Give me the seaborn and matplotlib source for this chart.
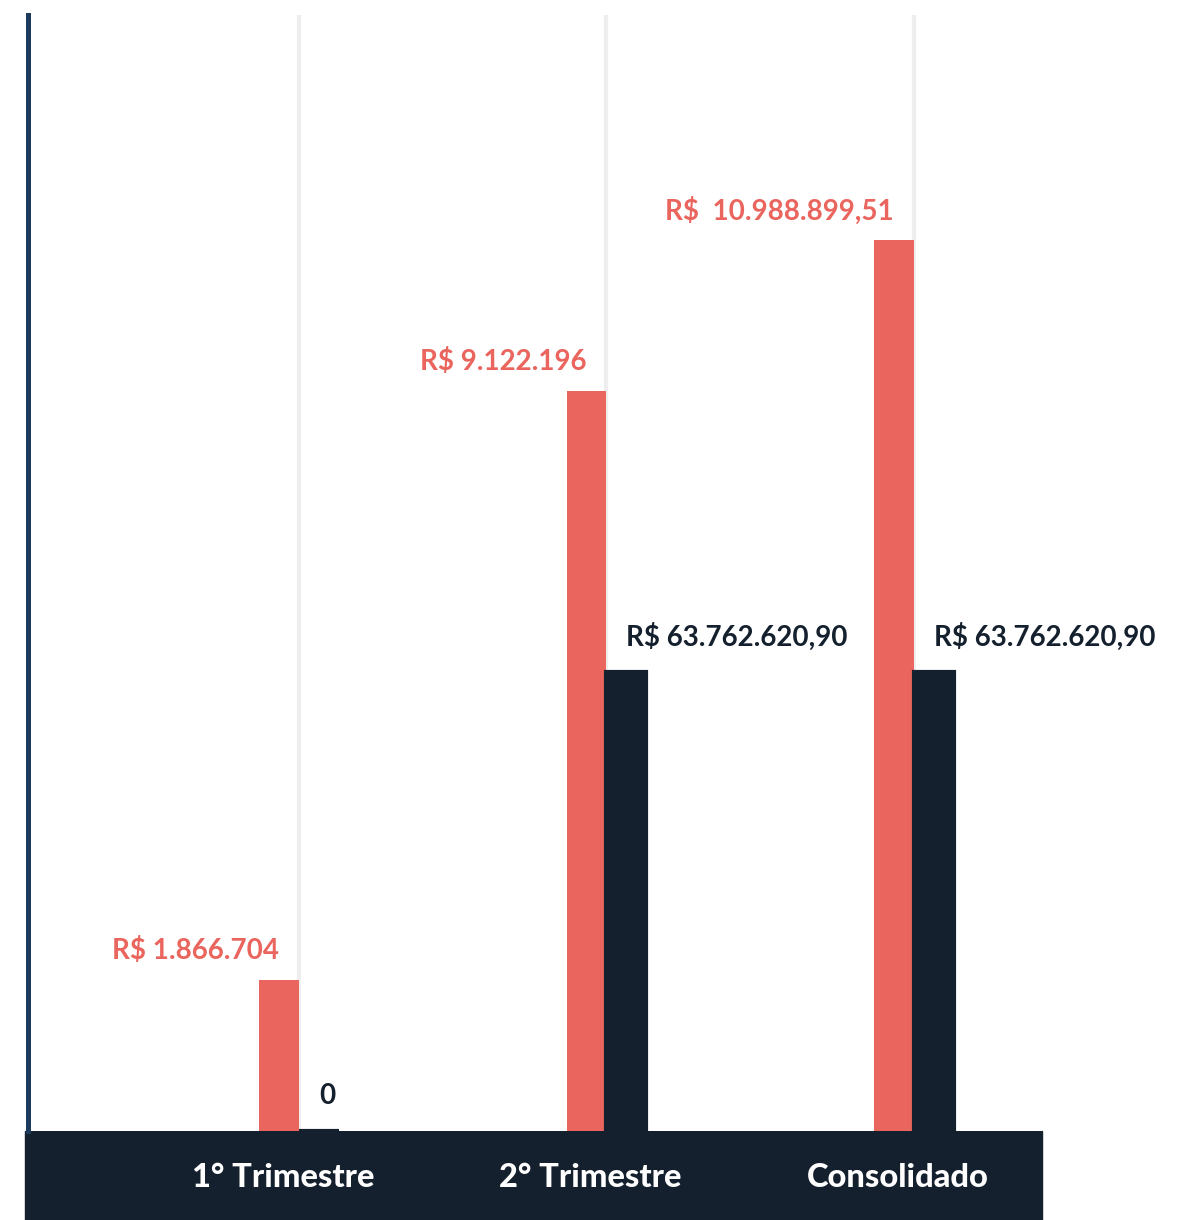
"""Receita por período — barras agrupadas com dois eixos (vermelho / azul-marinho)."""

import matplotlib
matplotlib.use("Agg")
import matplotlib.pyplot as plt
import matplotlib.transforms as mtransforms
import numpy as np
import pandas as pd
import seaborn as sns
from matplotlib.patches import Rectangle

# --- dados ---
periodos = ["1° Trimestre", "2° Trimestre", "Consolidado"]
serie_a = [1866704, 9122196, 10988899.51]
serie_b = [0, 63762620.90, 63762620.90]
rotulos_a = ["R$ 1.866.704", "R$ 9.122.196", "R$  10.988.899,51"]
rotulos_b = ["0", "R$ 63.762.620,90", "R$ 63.762.620,90"]
series = ["Série A", "Série B"]

VERMELHO = "#EA655E"
MARINHO = "#15202E"
AZUL_EIXO = "#1B3A5C"
CINZA = "#EEEEEE"

sns.set_theme(style="white")
plt.rcParams["font.family"] = ["Lato", "DejaVu Sans"]

df = pd.DataFrame({
    "periodo": periodos * 2,
    "valor": serie_a + serie_b,
    "serie": [series[0]] * 3 + [series[1]] * 3,
})

W, H = 1186, 1220
fig = plt.figure(figsize=(W / 100, H / 100), dpi=100)
ax = fig.add_axes([28 / W, 89 / H, (1042 - 28) / W, (1131 - 15) / H])
ax2 = ax.twinx()

pal = {series[0]: VERMELHO, series[1]: MARINHO}
largura = 0.26

sns.barplot(data=df[df["serie"] == series[0]], x="periodo", y="valor",
            hue="serie", hue_order=series, order=periodos, palette=pal,
            width=largura, dodge=True, saturation=1, legend=False, ax=ax,
            linewidth=0)
sns.barplot(data=df[df["serie"] == series[1]], x="periodo", y="valor",
            hue="serie", hue_order=series, order=periodos, palette=pal,
            width=largura, dodge=True, saturation=1, legend=False, ax=ax2,
            edgecolor=MARINHO, linewidth=3)

ax.set_ylim(0, 13.76e6)
ax2.set_ylim(0, 155.0e6)
ax.set_xlim(-0.8813, 2.4163)

# grade vertical nas categorias
ax.set_axisbelow(True)
ax.grid(axis="x", color=CINZA, lw=3)
ax.grid(axis="y", visible=False)
ax2.grid(False)

for a in (ax, ax2):
    a.set_yticks([])
    a.set_ylabel("")
    a.set_xlabel("")
    for s in ("top", "right", "bottom", "left"):
        a.spines[s].set_visible(False)
ax.spines["left"].set_visible(True)
ax.spines["left"].set_color(AZUL_EIXO)
ax.spines["left"].set_linewidth(3.6)

ax.tick_params(axis="x", length=0, pad=23, labelcolor="white",
               labelsize=23.5)
desloc = mtransforms.ScaledTranslation(-16 / 100, 0, fig.dpi_scale_trans)
for t in ax.get_xticklabels():
    t.set_fontweight("black")
    t.set_transform(t.get_transform() + desloc)

# faixa inferior
fig.patches.append(Rectangle((25 / W, 0), (1042 - 25) / W, 89 / H,
                             transform=fig.transFigure, color=MARINHO,
                             zorder=-1))

# rótulos de valor
d = largura / 4
for i, (va_, ta) in enumerate(zip(serie_a, rotulos_a)):
    ax.annotate(ta, xy=(i - d, va_), xytext=(0, 21), textcoords="offset points",
                ha="right", va="center", color=VERMELHO, fontsize=20,
                fontweight="bold")
for i, (vb, tb) in enumerate(zip(serie_b, rotulos_b)):
    ax2.annotate(tb, xy=(i + d, vb), xytext=(0, 25), textcoords="offset points",
                 ha="left", va="center", color=MARINHO, fontsize=20,
                 fontweight="bold")

fig.savefig("out.png", dpi=100)
